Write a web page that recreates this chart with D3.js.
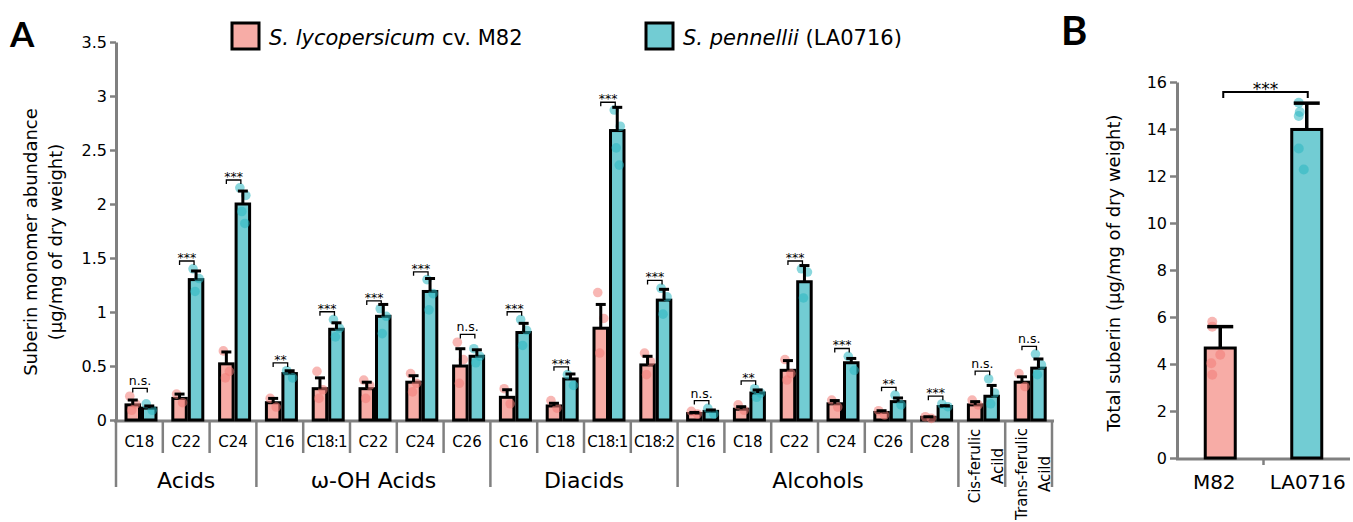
<!DOCTYPE html>
<html>
<head>
<meta charset="utf-8">
<script src="https://cdn.jsdelivr.net/npm/d3@7"></script>
<style>
  body { margin: 0; background: #fff; }
  svg { font-family: "DejaVu Sans", sans-serif; }
  .tick text { font-family: "DejaVu Sans", sans-serif; }
</style>
</head>
<body>
<svg id="chart" width="1353" height="522"></svg>
<script>
// ---- data ----
var categories = ["C18","C22","C24","C16","C18:1","C22","C24","C26","C16","C18","C18:1","C18:2",
                  "C16","C18","C22","C24","C26","C28","Cis-ferulic|Acild","Trans-ferulic|Acild"];
var groupNames = ["Acids", "\u03c9-OH Acids", "Diacids", "Alcohols", "", ""];
var groupSizes = [3, 5, 4, 6, 1, 1];

var m82Mean = [0.14,0.20,0.52, 0.16,0.29,0.29,0.35,0.50, 0.21,0.13,0.85,0.51, 0.06,0.10,0.46,0.15,0.07,0.025, 0.14,0.35];
var m82Err  = [0.185,0.24,0.63, 0.20,0.39,0.35,0.41,0.66, 0.28,0.155,1.07,0.59, 0.07,0.123,0.55,0.18,0.086,0.03, 0.17,0.40];
var laMean  = [0.11,1.30,2.00, 0.43,0.84,0.96,1.19,0.59, 0.81,0.38,2.68,1.11, 0.08,0.25,1.28,0.53,0.17,0.125, 0.22,0.48];
var laErr   = [0.13,1.38,2.12, 0.456,0.90,1.07,1.31,0.65, 0.895,0.426,2.895,1.21, 0.093,0.278,1.43,0.57,0.204,0.133, 0.32,0.565];

var m82Pts = [[0.22,0.15,0.09],[0.24,0.16],[0.64,0.45,0.39],
              [0.20,0.12],[0.45,0.28,0.20],[0.37,0.32,0.20],[0.43,0.34,0.26],[0.72,0.56,0.34],
              [0.29,0.15],[0.18,0.11],[1.18,0.94,0.62],[0.62,0.54,0.42],
              [0.08,0.056],[0.14,0.09],[0.56,0.43,0.37],[0.185,0.12],[0.086,0.046],[0.03,0.015],
              [0.185,0.14],[0.43,0.31]];
var laPts  = [[0.15,0.09],[1.40,1.31,1.19],[2.15,2.08,1.93,1.82],
              [0.456,0.39],[0.93,0.85,0.77],[1.03,0.96,0.80],[1.30,1.17,1.02],[0.66,0.59,0.53],
              [0.93,0.83,0.69],[0.42,0.32],[2.87,2.72,2.52,2.36],[1.22,1.14,0.98],
              [0.108,0.056],[0.29,0.25,0.21],[1.40,1.37,1.13],[0.59,0.46],[0.23,0.14],[0.148,0.123],
              [0.38,0.25,0.15],[0.61,0.51,0.42]];
var sigLabels = ["n.s.","***","***", "**","***","***","***","n.s.", "***","***","***","***",
                 "n.s.","**","***","***","**","***", "n.s.","n.s."];
var yTicksA = [0,0.5,1,1.5,2,2.5,3,3.5];

var totalNames = ["M82", "LA0716"];
var totalMean  = [4.68, 13.98];
var totalErr   = [5.59, 15.1];
var totalPts   = [[5.8,5.59,4.39,4.03,3.54],[15.12,14.72,14.55,13.17,12.28]];
var yTicksB = [0,2,4,6,8,10,12,14,16];

var pinkFill = "#f7aca6", tealFill = "#72ccd3";
var pinkDot = "#f27c76", tealDot = "#2ab7c1";
var gray = "#808080";
var jit = [-3, 3, -1, 2, -2];

var svg = d3.select("#chart");

// ================= Panel A =================
var y = d3.scaleLinear().domain([0, 3.5]).range([420, 42]);
var x = d3.scaleBand().domain(d3.range(categories.length)).range([116, 1052]);
var xs = d3.scaleBand().domain(["m82","la"]).range([8.5, 41.5]);

svg.append("text").attr("x", 10).attr("y", 47).attr("font-size", 35).attr("font-weight", "bold")
  .attr("font-family", "Lato, sans-serif").text("A");

var yAxis = svg.append("g").attr("transform", "translate(116,0)")
  .call(d3.axisLeft(y).tickValues(yTicksA).tickSize(6).tickSizeOuter(0).tickFormat(function(d){ return d; }));
yAxis.select(".domain").attr("stroke", gray).attr("stroke-width", 3);
yAxis.selectAll(".tick line").attr("stroke", gray).attr("stroke-width", 2.5);
yAxis.selectAll(".tick text").attr("font-size", 16).attr("fill", "#000").attr("x", -9);

var ylab = svg.append("text").attr("transform", "translate(37,242) rotate(-90)")
  .attr("text-anchor", "middle").attr("font-size", 18);
ylab.append("tspan").attr("x", 0).attr("dy", 0).text("Suberin monomer abundance");
ylab.append("tspan").attr("x", 0).attr("dy", 25).text("(\u03bcg/mg of dry weight)");

// x axis
svg.append("line").attr("x1", 114).attr("x2", 1054).attr("y1", 421).attr("y2", 421)
  .attr("stroke", gray).attr("stroke-width", 3);

var bounds = [0];
groupSizes.forEach(function(n, i){ bounds.push(bounds[i] + n); });

for (var i = 0; i <= categories.length; i++) {
  var xx = i < categories.length ? x(i) : x(categories.length - 1) + x.bandwidth();
  var isLong = bounds.indexOf(i) >= 0;
  svg.append("line").attr("x1", xx).attr("x2", xx).attr("y1", 421).attr("y2", isLong ? 487 : 453)
    .attr("stroke", gray).attr("stroke-width", 2.5);
}

categories.forEach(function(c, i){
  var cx = x(i) + x.bandwidth() / 2;
  if (c.indexOf("|") < 0) {
    svg.append("text").attr("x", cx).attr("y", 447).attr("text-anchor", "middle")
      .attr("font-size", 15).attr("letter-spacing", c.length > 3 ? -0.8 : 0).text(c);
  } else {
    var parts = c.split("|");
    var cy = i == 18 ? 466 : 474;
    var t = svg.append("text").attr("transform", "translate(" + (cx - 1) + "," + cy + ") rotate(-90)")
      .attr("text-anchor", "middle").attr("font-size", 15);
    t.append("tspan").attr("x", 0).attr("dy", -1).text(parts[0]);
    t.append("tspan").attr("x", 0).attr("dy", 23).text(parts[1]);
  }
});

groupNames.forEach(function(g, i){
  if (!g) return;
  var x0 = x(bounds[i]), x1 = x(bounds[i + 1] - 1) + x.bandwidth();
  svg.append("text").attr("x", (x0 + x1) / 2).attr("y", 488).attr("text-anchor", "middle")
    .attr("font-size", 22).text(g);
});

// bars
var series = [
  {key: "m82", mean: m82Mean, err: m82Err, pts: m82Pts, fill: pinkFill, dot: pinkDot},
  {key: "la",  mean: laMean,  err: laErr,  pts: laPts,  fill: tealFill, dot: tealDot}
];

series.forEach(function(s){
  var g = svg.append("g");
  var bw = xs.bandwidth();
  g.selectAll("rect").data(s.mean).enter().append("rect")
    .attr("x", function(d, i){ return x(i) + xs(s.key) + 1.5; })
    .attr("y", function(d){ return y(d); })
    .attr("width", bw - 3)
    .attr("height", function(d){ return y(0) - y(d); })
    .attr("fill", s.fill).attr("stroke", "#000").attr("stroke-width", 3);
});

series.forEach(function(s){
  var bw = xs.bandwidth();
  s.pts.forEach(function(arr, i){
    var cx = x(i) + xs(s.key) + bw / 2;
    svg.selectAll(null).data(arr).enter().append("circle")
      .attr("cx", function(d, j){ return cx + jit[j]; })
      .attr("cy", function(d){ return y(d); })
      .attr("r", 4.8).attr("fill", s.dot).attr("fill-opacity", 0.55);
  });
  s.err.forEach(function(e, i){
    var cx = x(i) + xs(s.key) + bw / 2;
    svg.append("line").attr("x1", cx).attr("x2", cx).attr("y1", y(s.mean[i])).attr("y2", y(e))
      .attr("stroke", "#000").attr("stroke-width", 3);
    svg.append("line").attr("x1", cx - 5).attr("x2", cx + 5).attr("y1", y(e)).attr("y2", y(e))
      .attr("stroke", "#000").attr("stroke-width", 3);
  });
});

// significance brackets
sigLabels.forEach(function(lab, i){
  var bw = xs.bandwidth();
  var xa = x(i) + xs("m82") + bw / 2, xb = x(i) + xs("la") + bw / 2 - 2;
  var top = Math.min(y(m82Err[i]), y(laErr[i]), y(d3.max(m82Pts[i])) - 4.8, y(d3.max(laPts[i])) - 4.8);
  var by = top - 3;
  svg.append("path").attr("d", "M" + xa + "," + (by + 4) + "V" + by + "H" + xb + "V" + (by + 4))
    .attr("fill", "none").attr("stroke", "#000").attr("stroke-width", 1.3);
  svg.append("text").attr("x", (xa + xb) / 2).attr("y", lab == "n.s." ? by - 3 : by + 1)
    .attr("text-anchor", "middle").attr("font-size", 12.5).text(lab);
});

// legend
var legend = [
  {fill: pinkFill, it: "S. lycopersicum", rest: " cv. M82", x: 232},
  {fill: tealFill, it: "S. pennellii", rest: " (LA0716)", x: 646}
];
legend.forEach(function(l){
  svg.append("rect").attr("x", l.x).attr("y", 23).attr("width", 27).attr("height", 26)
    .attr("fill", l.fill).attr("stroke", "#000").attr("stroke-width", 3);
  var t = svg.append("text").attr("x", l.x + 37).attr("y", 45).attr("font-size", 21);
  t.append("tspan").attr("font-style", "italic").text(l.it);
  t.append("tspan").text(l.rest);
});

// ================= Panel B =================
var yb = d3.scaleLinear().domain([0, 16]).range([458, 82]);
var xb = d3.scaleBand().domain(totalNames).range([1177, 1350]);

svg.append("text").attr("x", 1061).attr("y", 45).attr("font-size", 40).attr("font-weight", "bold")
  .attr("font-family", "Lato, sans-serif").text("B");

var bAxis = svg.append("g").attr("transform", "translate(1177,0)")
  .call(d3.axisLeft(yb).tickValues(yTicksB).tickSize(7).tickSizeOuter(0));
bAxis.select(".domain").attr("stroke", gray).attr("stroke-width", 3);
bAxis.selectAll(".tick line").attr("stroke", gray).attr("stroke-width", 2.5);
bAxis.selectAll(".tick text").attr("font-size", 16).attr("fill", "#000").attr("x", -10);

svg.append("line").attr("x1", 1176).attr("x2", 1350).attr("y1", 459).attr("y2", 459)
  .attr("stroke", gray).attr("stroke-width", 3);
svg.append("line").attr("x1", xb("LA0716")).attr("x2", xb("LA0716")).attr("y1", 459).attr("y2", 465)
  .attr("stroke", gray).attr("stroke-width", 2.5);

svg.append("text").attr("transform", "translate(1120,273) rotate(-90)").attr("text-anchor", "middle")
  .attr("font-size", 18).text("Total suberin (\u03bcg/mg of dry weight)");

var bbw = 33;
var bFills = [pinkFill, tealFill], bDots = [pinkDot, tealDot];
svg.selectAll(".tb").data(totalMean).enter().append("rect").attr("class", "tb")
  .attr("x", function(d, i){ return xb(totalNames[i]) + xb.bandwidth() / 2 - bbw / 2 + 1.5; })
  .attr("y", function(d){ return yb(d); })
  .attr("width", bbw - 3)
  .attr("height", function(d){ return yb(0) - yb(d); })
  .attr("fill", function(d, i){ return bFills[i]; })
  .attr("stroke", "#000").attr("stroke-width", 3);

var bjit = [[-8,-8,0,-9,-8],[-8,-7,-8,-8,-3]];
totalPts.forEach(function(arr, i){
  var cx = xb(totalNames[i]) + xb.bandwidth() / 2;
  svg.selectAll(null).data(arr).enter().append("circle")
    .attr("cx", function(d, j){ return cx + bjit[i][j]; })
    .attr("cy", function(d){ return yb(d); })
    .attr("r", 5).attr("fill", bDots[i]).attr("fill-opacity", 0.55);
});
totalErr.forEach(function(e, i){
  var cx = xb(totalNames[i]) + xb.bandwidth() / 2;
  svg.append("line").attr("x1", cx).attr("x2", cx).attr("y1", yb(totalMean[i])).attr("y2", yb(e))
    .attr("stroke", "#000").attr("stroke-width", 3.5);
  svg.append("line").attr("x1", cx - 13).attr("x2", cx + 13).attr("y1", yb(e)).attr("y2", yb(e))
    .attr("stroke", "#000").attr("stroke-width", 3.5);
});

var bx1 = xb("M82") + xb.bandwidth() / 2 + 3, bx2 = xb("LA0716") + xb.bandwidth() / 2 + 1;
svg.append("path").attr("d", "M" + bx1 + ",98V92H" + bx2 + "V98")
  .attr("fill", "none").attr("stroke", "#000").attr("stroke-width", 2);
svg.append("text").attr("x", (bx1 + bx2) / 2).attr("y", 95).attr("text-anchor", "middle")
  .attr("font-size", 17).text("***");

svg.append("text").attr("x", xb("M82") + xb.bandwidth() / 2 - 6).attr("y", 489).attr("text-anchor", "middle")
  .attr("font-size", 20).text("M82");
svg.append("text").attr("x", xb("LA0716") + xb.bandwidth() / 2 + 1).attr("y", 489).attr("text-anchor", "middle")
  .attr("font-size", 20).text("LA0716");
</script>
</body>
</html>
